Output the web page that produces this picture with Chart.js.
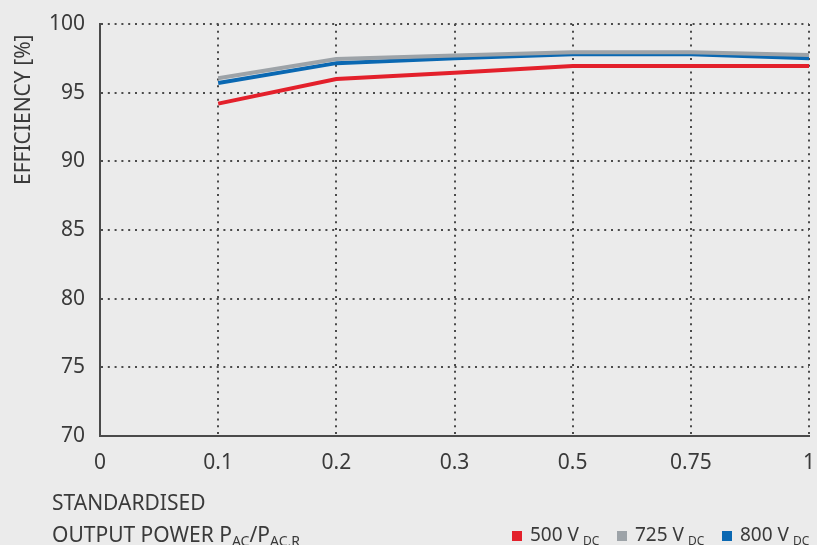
<!DOCTYPE html>
<html><head><meta charset="utf-8">
<script src="https://cdn.jsdelivr.net/npm/chart.js@4/dist/chart.umd.min.js"></script>
<style>html,body{margin:0;padding:0;background:#ebebeb;}#wrap{width:817px;height:545px;}</style>
</head><body><div id="wrap"><canvas id="c" width="817" height="545"></canvas></div>
<script>
const categories = ['0','0.1','0.2','0.3','0.5','0.75','1'];
const v500 = [null, 94.2, 96.0, 96.45, 96.95, 96.95, 96.95];
const v725 = [null, 96.05, 97.45, 97.7, 97.95, 97.95, 97.75];
const v800 = [null, 95.7, 97.15, 97.5, 97.8, 97.8, 97.5];
const yTicks = [70, 75, 80, 85, 90, 95, 100];
const legendLabels = ['500 V', '725 V', '800 V'];
const colors = ['#e3202b', '#9da3a8', '#0a68b2'];
const FONT = "'Noto Sans', sans-serif";
const TXT = '#3a3a3a';

const extras = {
  id: 'extras',
  afterDraw(chart) {
    const ctx = chart.ctx;
    ctx.save();
    ctx.fillStyle = TXT;
    // y title
    ctx.save();
    ctx.translate(30, 185);
    ctx.rotate(-Math.PI / 2);
    ctx.font = '21px ' + FONT;
    ctx.textBaseline = 'alphabetic';
    ctx.textAlign = 'left';
    ctx.fillText('EFFICIENCY [%]', 0, 0);
    ctx.restore();
    // x title
    ctx.font = '21px ' + FONT;
    ctx.textAlign = 'left';
    ctx.textBaseline = 'alphabetic';
    ctx.fillText('STANDARDISED', 52, 510);
    let x = 52;
    const parts = [['OUTPUT POWER P', 0], ['AC', 1], ['/P', 0], ['AC,R', 1]];
    parts.forEach(([t, sub]) => {
      ctx.font = (sub ? '14px ' : '21px ') + FONT;
      ctx.fillText(t, x, sub ? 546 : 542);
      x += ctx.measureText(t).width;
    });
    // legend
    const lx = [512, 617, 722];
    legendLabels.forEach((l, i) => {
      ctx.fillStyle = colors[i];
      ctx.fillRect(lx[i], 531, 10, 10);
      ctx.fillStyle = TXT;
      ctx.font = '19px ' + FONT;
      ctx.fillText(l, lx[i] + 18, 541);
      const w = ctx.measureText(l).width;
      ctx.font = '12px ' + FONT;
      ctx.fillText('DC', lx[i] + 18 + w + 4, 545);
    });
    ctx.restore();
  }
};

const dash = [2, 4.8];
new Chart(document.getElementById('c'), {
  type: 'line',
  data: {
    labels: categories,
    datasets: [
      { label: '500', data: v500, borderColor: colors[0], borderWidth: 4, pointRadius: 0, tension: 0 },
      { label: '725', data: v725, borderColor: colors[1], borderWidth: 4, pointRadius: 0, tension: 0 },
      { label: '800', data: v800, borderColor: colors[2], borderWidth: 4, pointRadius: 0, tension: 0 }
    ]
  },
  options: {
    responsive: false,
    animation: false,
    layout: { padding: { top: 24, right: 8, left: 0, bottom: 0 } },
    plugins: { legend: { display: false }, tooltip: { enabled: false } },
    scales: {
      x: {
        offset: false,
        grid: { color: '#4a4a4a', lineWidth: 2, drawTicks: false },
        border: { display: true, color: '#4a4a4a', width: 2, dash: dash },
        ticks: { color: TXT, font: { family: FONT, size: 21 }, padding: 14, maxRotation: 0, autoSkip: false },
        afterFit(s) { s.height = 109; s.paddingLeft = 0; s.paddingRight = 0; }
      },
      y: {
        min: 70, max: 100,
        afterBuildTicks(s) { s.ticks = yTicks.map(v => ({ value: v })); },
        grid: { color: '#4a4a4a', lineWidth: 2, drawTicks: false },
        border: { display: true, color: '#4a4a4a', width: 2, dash: dash },
        ticks: { color: TXT, font: { family: FONT, size: 21 }, padding: 15 },
        afterFit(s) { s.width = 100; s.paddingTop = 0; s.paddingBottom = 0; }
      }
    }
  },
  plugins: [extras]
});
</script>
<script>
const ch = Chart.getChart('c');
ch.options.scales.x.grid.borderDash = dash;
ch.options.scales.y.grid.borderDash = dash;
ch.update();
</script>
</body></html>
